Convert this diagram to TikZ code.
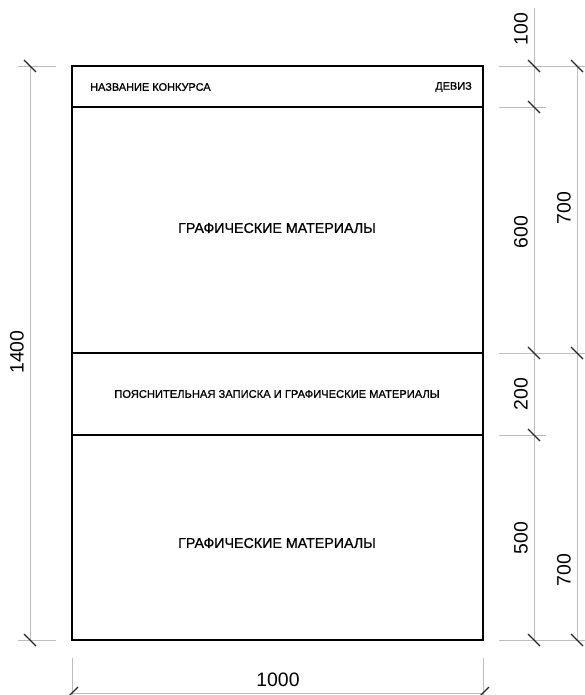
\documentclass[tikz,border=0pt]{standalone}
\usepackage{fontspec}
\setmainfont{Liberation Sans}
\newfontfamily\boxfont[FakeBold=0.8]{Liberation Sans}
\usepackage{tikz}
\usepackage{tkz-euclide}

\definecolor{dimgray}{HTML}{BDBDBD}

\begin{document}
\begin{tikzpicture}[x=1bp,y=-1bp,
    frame/.style={line width=1.8bp,black},
    dimline/.style={line width=0.7bp,dimgray},
    dimtick/.style={line width=1.1bp,black!85},
    dimlabel/.style={font=\fontsize{19.5}{22}\selectfont,inner sep=0pt},
    boxlabel/.style={font=\boxfont\fontsize{#1}{#1}\selectfont,inner sep=0pt}]
    \useasboundingbox (0,0) rectangle (585,695);
    \tkzDefPoint(72,66){A} \tkzDefPoint(483,66){B}
    \tkzDefPoint(483,640){C} \tkzDefPoint(72,640){D}
    \tkzDefPoint(72,107){E} \tkzDefPoint(483,107){F}
    \tkzDefPoint(72,353){G} \tkzDefPoint(483,353){H}
    \tkzDefPoint(72,435){I} \tkzDefPoint(483,435){J}
    \draw[frame] (A) rectangle (C);
    \draw[frame] (E) -- (F) (G) -- (H) (I) -- (J);
    \node[boxlabel=11,anchor=west] (title) at (90,87) {НАЗВАНИЕ КОНКУРСА};
    \node[boxlabel=11,anchor=east] (motto) at (472,87) {ДЕВИЗ};
    \node[boxlabel=14.3] (graphA) at (277,228) {ГРАФИЧЕСКИЕ МАТЕРИАЛЫ};
    \node[boxlabel=11.2] (note) at (277,394) {ПОЯСНИТЕЛЬНАЯ ЗАПИСКА И ГРАФИЧЕСКИЕ МАТЕРИАЛЫ};
    \node[boxlabel=14.3] (graphB) at (277,543) {ГРАФИЧЕСКИЕ МАТЕРИАЛЫ};
    \draw[dimline] (18,66) -- (56,66) (18,640) -- (56,640) (30,66) -- (30,640);
    \foreach \y/\len in {66/585,107/546,353/585,435/546,640/585}
        \draw[dimline] (499,\y) -- (\len,\y);
    \draw[dimline] (534,8) -- (534,640) (577,66) -- (577,640);
    \draw[dimline] (72,658) -- (72,695) (483,658) -- (483,695) (72,693) -- (483,693);
    \foreach \x/\y in {30/66,30/640,534/66,534/107,534/353,534/435,534/640,577/66,577/353,577/640}
        \draw[dimtick] (\x,\y) ++(-6,-6) -- ++(12,12);
    \foreach \x in {72,483}
        \draw[dimtick] (\x,693) ++(-6,6) -- ++(12,-12);
    \node[dimlabel,rotate=90] (total) at (17,352) {1400};
    \node[dimlabel] (width) at (278,680) {1000};
    \node[dimlabel,rotate=90] (hHead) at (521,29) {100};
    \node[dimlabel,rotate=90] (hTop) at (521,232) {600};
    \node[dimlabel,rotate=90] (hMid) at (521,394) {200};
    \node[dimlabel,rotate=90] (hBot) at (521,538) {500};
    \node[dimlabel,rotate=90] (hUpper) at (564,208) {700};
    \node[dimlabel,rotate=90] (hLower) at (564,570) {700};
\end{tikzpicture}
\end{document}
